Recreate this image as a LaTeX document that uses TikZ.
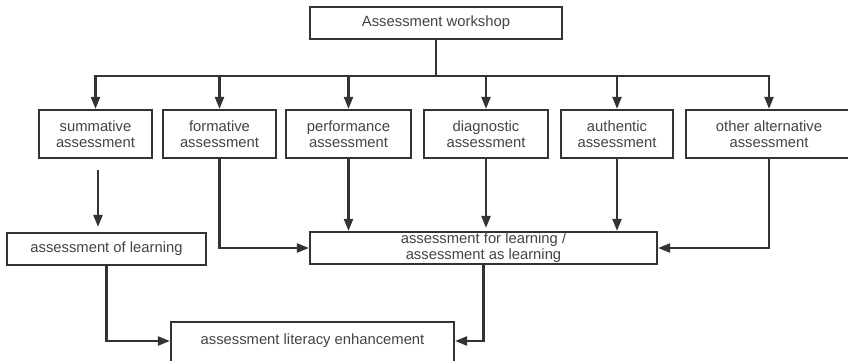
\documentclass[tikz,border=0pt]{standalone}
\usepackage{fontspec}
\setmainfont{Liberation Sans}
\usetikzlibrary{arrows.meta}
\definecolor{linec}{HTML}{333333}
\definecolor{textc}{HTML}{444444}
\begin{document}
\begin{tikzpicture}[x=1pt,y=-1pt,
  box/.style={draw=linec, line width=2.2pt, rectangle, inner sep=0pt, align=center,
    text=textc, font=\fontsize{14.8}{16}\selectfont},
  arr/.style={draw=linec, line width=2.2pt, -{Triangle[length=12pt,width=9pt]}},
  ln/.style={draw=linec, line width=2.2pt}]
\path[use as bounding box, clip] (0,0) rectangle (848,361);
\fill[white] (0,0) rectangle (848,361);
% top
\node[box, minimum width=252pt, minimum height=32pt] (ws) at (436,23) {Assessment workshop};
% row
\node[box, minimum width=113pt, minimum height=48pt] (sum) at (95.5,134) {summative\\assessment};
\node[box, minimum width=113pt, minimum height=48pt] (for) at (219.5,134) {formative\\assessment};
\node[box, minimum width=125pt, minimum height=48pt] (perf) at (348.5,134) {performance\\assessment};
\node[box, minimum width=124pt, minimum height=48pt] (diag) at (486,134) {diagnostic\\assessment};
\node[box, minimum width=112pt, minimum height=48pt] (auth) at (617,134) {authentic\\assessment};
\node[box, minimum width=166pt, minimum height=48pt] (oth) at (769,134) {other alternative\\assessment};
% middle
\node[box, minimum width=199pt, minimum height=32pt] (aol) at (106.5,249) {assessment of learning};
\node[box, minimum width=347pt, minimum height=32pt] (afl) at (483.5,248) {assessment for learning /\\assessment as learning};
% bottom
\node[box, minimum width=283pt, minimum height=44pt, anchor=north] (ale) at (312.5,321) {};
\node[text=textc, font=\fontsize{14.8}{16}\selectfont] (alet) at (312.5,341) {assessment literacy enhancement};
% connectors
\coordinate (j) at (436,76);
\draw[ln] (ws.south) -- (j);
\draw[arr] (j) -| (sum.north);
\draw[arr] (j) -| (for.north);
\draw[arr] (j) -| (perf.north);
\draw[arr] (j) -| (diag.north);
\draw[arr] (j) -| (auth.north);
\draw[arr] (j) -| (oth.north);
\coordinate (s1) at (98,170);
\draw[arr, shorten >=5pt] (s1) -- (s1 |- aol.north);
\draw[arr] (for.south) |- (afl.west);
\draw[arr] (perf.south) -- (perf.south |- afl.north);
\draw[arr, shorten >=3pt] (diag.south) -- (diag.south |- afl.north);
\draw[arr] (auth.south) -- (auth.south |- afl.north);
\draw[arr] (oth.south) |- (afl.east);
\draw[arr] (aol.south) |- (ale.west |- alet);
\draw[arr] (afl.south) |- (ale.east |- alet);
\end{tikzpicture}
\end{document}
